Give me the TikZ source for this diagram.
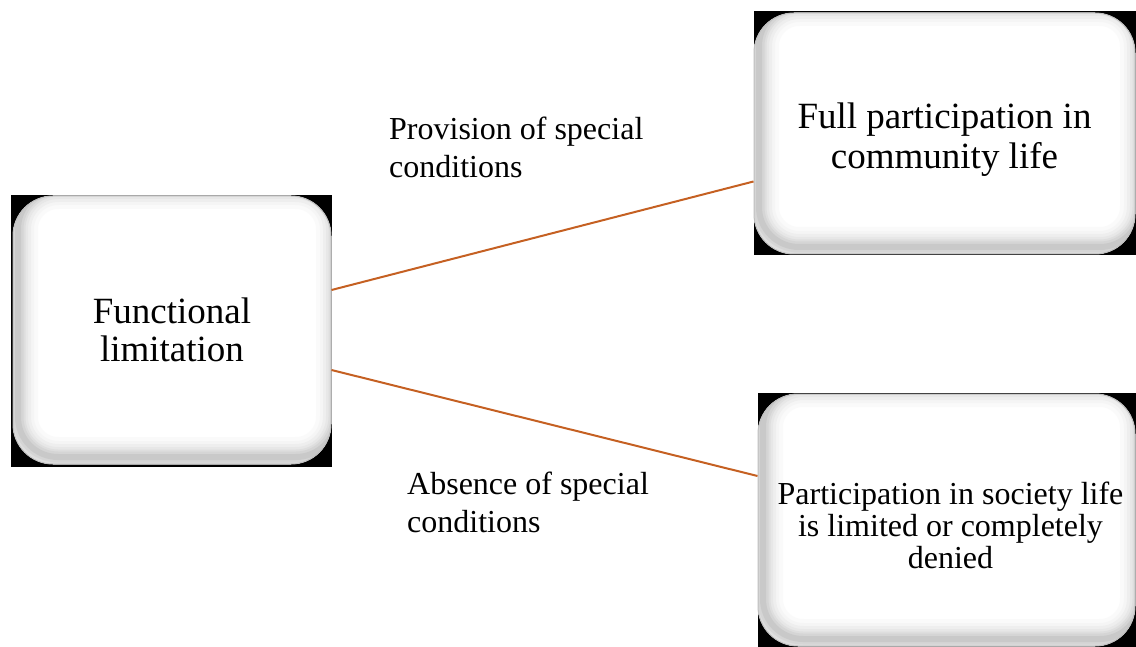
\documentclass[tikz,border=0pt]{standalone}
\usepackage{fontspec}
\setmainfont{Liberation Serif}
\usetikzlibrary{calc,backgrounds}

\definecolor{linkcol}{RGB}{197,96,34}

\newcommand{\shadering}[2]{%
  \draw[gray!#1, line width=#2, rounded corners=40pt]
    ($(path picture bounding box.south west)+(5,-7)$) rectangle ($(path picture bounding box.north east)+(5,-7)$);}

\tikzset{
  softbox/.style={rectangle, rounded corners=40pt, fill=white, draw=gray!50,
    line width=1pt, align=center, inner sep=0pt,
    path picture={
      \shadering{4}{40pt}
      \shadering{8}{32pt}
      \shadering{13}{26pt}
      \shadering{19}{20pt}
      \shadering{26}{15pt}
      \shadering{33}{11pt}
      \shadering{42}{6pt}
    }},
  link/.style={linkcol, line width=2pt},
  note/.style={align=left, anchor=west, inner sep=0pt, font=\fontsize{32}{38}\selectfont}
}

\begin{document}
\begin{tikzpicture}[x=1pt,y=-1pt]
    \useasboundingbox (0,0) rectangle (1136,647);

    % Boxes
    \node[softbox, minimum width=318pt, minimum height=268pt,
          font=\fontsize{37}{38}\selectfont] (func) at (172,330) {Functional\\limitation};
    \node[softbox, minimum width=381pt, minimum height=241pt,
          font=\fontsize{37}{40}\selectfont] (full) at (944.5,133.5)
          {\rule{0pt}{38pt}Full participation in\\community life};
    \node[softbox, minimum width=377pt, minimum height=252pt,
          font=\fontsize{32}{32}\selectfont] (denied) at (946.5,520)
          {\rule{0pt}{34pt}\hspace{8pt}Participation in society life\\\hspace{8pt}is limited or completely\\\hspace{8pt}denied};

    % Black backing behind the rounded boxes
    \begin{scope}[on background layer]
        \fill[black] ($(func.south west)+(-2,2)$) rectangle (func.north east);
        \fill[black] ($(full.south west)+(0,1)$) rectangle ($(full.north east)+(1,-1)$);
        \fill[black] ($(denied.south west)+(0,1)$) rectangle ($(denied.north east)+(1,-1)$);
    \end{scope}

    % Connectors
    \draw[link] ($(func.east)+(0,-40)$) -- ($(full.west)+(0,48)$);
    \draw[link] ($(func.east)+(0,40)$) -- ($(denied.west)+(0,-44)$);

    % Labels
    \node[note] (provlbl) at (389,147) {Provision of special\\conditions};
    \node[note] (abslbl) at (407,502) {Absence of special\\conditions};

\end{tikzpicture}
\end{document}
